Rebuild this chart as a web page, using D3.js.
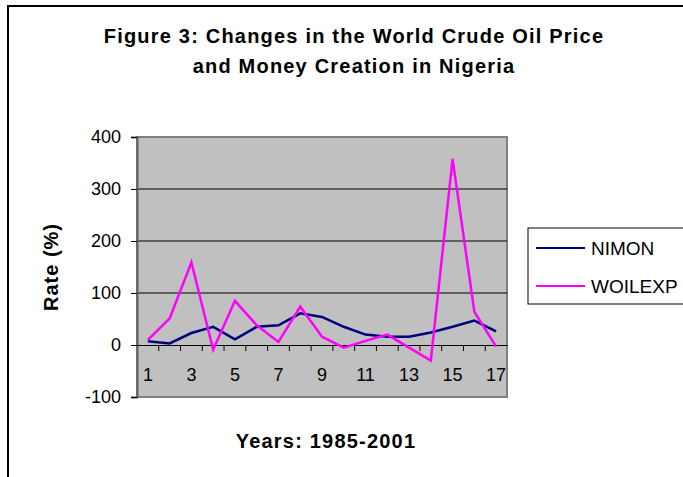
<!DOCTYPE html>
<html>
<head>
<meta charset="utf-8">
<script src="https://cdn.jsdelivr.net/npm/d3@7/dist/d3.min.js"></script>
<style>
  body { margin: 0; background: #fff; }
  text { font-family: "Liberation Sans", Arial, sans-serif; }
  .bold { font-size: 20px; font-weight: bold; letter-spacing: 1.2px; }
</style>
</head>
<body>
<div id="box"></div>
<script>
const years = d3.range(1, 18).map(String)
const nimon = [7, 3, 23, 35, 11, 35, 38, 61, 54, 35, 20, 16, 16, 24, 35, 47, 26]
const woilexp = [10, 51, 159, -9, 85, 38, 6, 74, 16, -5, 8, 20, -5, -30, 358, 64, -3]
const yTicks = [400, 300, 200, 100, 0, -100]
const xLabels = ['1', '3', '5', '7', '9', '11', '13', '15', '17']
const seriesNames = ['NIMON', 'WOILEXP']
const seriesColors = ['#000080', '#ff00ff']

const width = 683
const height = 477
const plot = { left: 137, right: 507, top: 137, bottom: 397 }

const svg = d3.select('#box').append('svg')
  .attr('width', width)
  .attr('height', height)

// chart area border (runs off the right / bottom of the window)
svg.append('rect')
  .attr('x', 8).attr('y', 6)
  .attr('width', 720).attr('height', 520)
  .attr('fill', '#fff')
  .attr('stroke', '#000')
  .attr('stroke-width', 2)

svg.append('text')
  .attr('class', 'bold')
  .attr('x', 354).attr('y', 43)
  .attr('text-anchor', 'middle')
  .text('Figure 3: Changes in the World Crude Oil Price')

svg.append('text')
  .attr('class', 'bold')
  .attr('x', 354).attr('y', 73)
  .attr('text-anchor', 'middle')
  .text('and Money Creation in Nigeria')

const xScale = d3.scaleBand().domain(years).range([plot.left, plot.right])
const yScale = d3.scaleLinear().domain([-100, 400]).range([plot.bottom, plot.top])
const xMid = d => xScale(d) + xScale.bandwidth() / 2

svg.append('rect')
  .attr('x', plot.left).attr('y', plot.top)
  .attr('width', plot.right - plot.left)
  .attr('height', plot.bottom - plot.top)
  .attr('fill', '#c0c0c0')
  .attr('stroke', '#808080')
  .attr('stroke-width', 2)

// gridlines
svg.append('g')
  .selectAll('line')
  .data(yTicks.filter(d => d > 0 && d < 400))
  .enter()
  .append('line')
  .attr('x1', plot.left).attr('x2', plot.right)
  .attr('y1', d => yScale(d)).attr('y2', d => yScale(d))
  .attr('stroke', '#000')
  .attr('stroke-width', 1)

const yAxis = d3.axisLeft(yScale).tickValues(yTicks).tickSize(6).tickPadding(10)
  .tickFormat(d => String(d))
svg.append('g')
  .attr('transform', `translate(${plot.left}, 0)`)
  .call(yAxis)
  .call(g => g.select('.domain').attr('stroke', '#606060').attr('stroke-width', 2))
  .call(g => g.selectAll('text').style('font-size', '18px').attr('fill', '#000')
    .style('font-family', '"Liberation Sans", Arial, sans-serif'))

// x axis sits on the zero line, ticks between categories
const xAxis = d3.axisBottom(xScale).tickSize(0).tickFormat(d => xLabels.includes(d) ? d : '')
svg.append('g')
  .attr('transform', `translate(0, ${yScale(0)})`)
  .call(xAxis)
  .call(g => g.select('.domain').attr('stroke', '#000').attr('stroke-width', 1))
  .call(g => g.selectAll('text').attr('dy', '1.85em').style('font-size', '18px').attr('fill', '#000')
    .style('font-family', '"Liberation Sans", Arial, sans-serif'))

svg.append('g')
  .selectAll('line')
  .data(years.slice(1))
  .enter()
  .append('line')
  .attr('x1', d => xScale(d)).attr('x2', d => xScale(d))
  .attr('y1', yScale(0)).attr('y2', yScale(0) + 6)
  .attr('stroke', '#000')

const line = d3.line()
  .x((d, i) => xMid(years[i]))
  .y(d => yScale(d))

const series = [nimon, woilexp]
svg.append('g')
  .selectAll('path')
  .data(series)
  .enter()
  .append('path')
  .attr('d', d => line(d))
  .attr('fill', 'none')
  .attr('stroke', (d, i) => seriesColors[i])
  .attr('stroke-width', 2.5)

svg.append('text')
  .attr('class', 'bold')
  .attr('transform', 'translate(58, 267) rotate(-90)')
  .attr('text-anchor', 'middle')
  .style('letter-spacing', '1px')
  .text('Rate (%)')

svg.append('text')
  .attr('class', 'bold')
  .attr('x', (plot.left + plot.right) / 2 + 4).attr('y', 448)
  .attr('text-anchor', 'middle')
  .text('Years: 1985-2001')

// legend
const legend = svg.append('g')
legend.append('rect')
  .attr('x', 528).attr('y', 228)
  .attr('width', 200).attr('height', 76)
  .attr('fill', '#fff')
  .attr('stroke', '#000')
  .attr('stroke-width', 1)

const legendY = d3.scalePoint().domain(seriesNames).range([248, 286])
seriesNames.forEach((name, i) => {
  legend.append('line')
    .attr('x1', 536).attr('x2', 585)
    .attr('y1', legendY(name)).attr('y2', legendY(name))
    .attr('stroke', seriesColors[i])
    .attr('stroke-width', 2)
  legend.append('text')
    .attr('x', 591).attr('y', legendY(name))
    .attr('dy', '0.35em')
    .style('font-size', '19px')
    .text(name)
})
</script>
</body>
</html>
